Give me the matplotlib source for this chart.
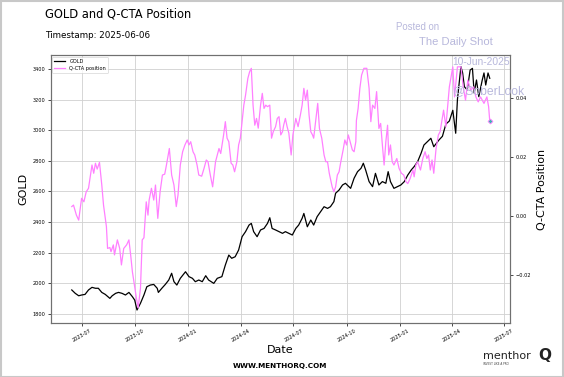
import matplotlib
matplotlib.use("Agg")
import matplotlib.pyplot as plt
import matplotlib.dates as mdates
import pandas as pd
from matplotlib.patches import Rectangle

# ---- data ----
gold_dates = [
    "2023-06-13", "2023-06-19", "2023-06-25", "2023-06-30", "2023-07-06", "2023-07-12",
    "2023-07-18", "2023-07-24", "2023-07-29", "2023-08-04", "2023-08-10", "2023-08-18",
    "2023-08-22", "2023-08-28", "2023-09-02", "2023-09-08", "2023-09-14", "2023-09-20",
    "2023-09-26", "2023-09-30", "2023-10-04", "2023-10-10", "2023-10-16", "2023-10-21",
    "2023-10-27", "2023-11-02", "2023-11-08", "2023-11-10", "2023-11-16", "2023-11-22",
    "2023-11-28", "2023-12-03", "2023-12-07", "2023-12-12", "2023-12-18", "2023-12-27",
    "2024-01-02", "2024-01-08", "2024-01-13", "2024-01-19", "2024-01-25", "2024-01-31",
    "2024-02-05", "2024-02-14", "2024-02-20", "2024-02-28", "2024-03-05", "2024-03-11",
    "2024-03-16", "2024-03-22", "2024-03-28", "2024-04-03", "2024-04-09", "2024-04-15",
    "2024-04-19", "2024-04-23", "2024-04-29", "2024-05-05", "2024-05-11", "2024-05-17",
    "2024-05-21", "2024-05-25", "2024-05-31", "2024-06-06", "2024-06-12", "2024-06-17",
    "2024-06-23", "2024-06-29", "2024-07-05", "2024-07-10", "2024-07-16", "2024-07-19",
    "2024-07-25", "2024-07-31", "2024-08-05", "2024-08-11", "2024-08-17", "2024-08-23",
    "2024-08-29", "2024-09-03", "2024-09-09", "2024-09-12", "2024-09-18", "2024-09-24",
    "2024-09-29", "2024-10-08", "2024-10-14", "2024-10-20", "2024-10-26", "2024-10-30",
    "2024-11-03", "2024-11-09", "2024-11-15", "2024-11-20", "2024-11-26", "2024-12-02",
    "2024-12-08", "2024-12-12", "2024-12-16", "2024-12-22", "2024-12-28", "2025-01-03",
    "2025-01-09", "2025-01-15", "2025-01-21", "2025-01-26", "2025-02-01", "2025-02-07",
    "2025-02-12", "2025-02-18", "2025-02-24", "2025-03-01", "2025-03-10", "2025-03-16",
    "2025-03-22", "2025-03-28", "2025-04-03", "2025-04-08", "2025-04-11", "2025-04-17",
    "2025-04-20", "2025-04-23", "2025-04-28", "2025-05-03", "2025-05-07", "2025-05-10",
    "2025-05-14", "2025-05-18", "2025-05-24", "2025-05-27", "2025-05-30", "2025-06-03",
    "2025-06-06"]
gold_values = [
    1956, 1934, 1918, 1923, 1927, 1956,
    1973, 1967, 1967, 1940, 1927, 1901,
    1918, 1934, 1940, 1934, 1923, 1940,
    1912, 1890, 1825, 1869, 1923, 1977,
    1988, 1992, 1967, 1940, 1967, 1992,
    2021, 2065, 2010, 1988, 2032, 2075,
    2043, 2032, 2010, 2021, 2010, 2049,
    2021, 1999, 2032, 2043, 2119, 2184,
    2163, 2173, 2217, 2304, 2337, 2380,
    2391, 2337, 2304, 2348, 2358, 2391,
    2428, 2358, 2348, 2337, 2326, 2337,
    2326, 2315, 2358, 2380, 2424, 2456,
    2369, 2413, 2380, 2435, 2467, 2500,
    2489, 2500, 2533, 2588, 2609, 2642,
    2653, 2620, 2686, 2729, 2751, 2784,
    2740, 2664, 2631, 2718, 2642, 2664,
    2653, 2729, 2664, 2620, 2631, 2642,
    2664, 2707, 2740, 2762, 2794, 2849,
    2903, 2925, 2947, 2892, 2936, 2960,
    3040, 3060, 3130, 2980, 3200, 3415,
    3374, 3284, 3263, 3393, 3404, 3243,
    3328, 3219, 3328, 3374, 3295, 3374,
    3339]

cta_dates = [
    "2023-06-13", "2023-06-16", "2023-06-21", "2023-06-25", "2023-06-30", "2023-07-04",
    "2023-07-08", "2023-07-12", "2023-07-18", "2023-07-21", "2023-07-24", "2023-07-27",
    "2023-07-31", "2023-08-04", "2023-08-07", "2023-08-12", "2023-08-14", "2023-08-18",
    "2023-08-20", "2023-08-24", "2023-08-26", "2023-08-31", "2023-09-04", "2023-09-07",
    "2023-09-11", "2023-09-16", "2023-09-20", "2023-09-23", "2023-09-26", "2023-09-29",
    "2023-10-03", "2023-10-06", "2023-10-10", "2023-10-13", "2023-10-16", "2023-10-20",
    "2023-10-23", "2023-10-25", "2023-10-29", "2023-11-02", "2023-11-05", "2023-11-09",
    "2023-11-13", "2023-11-17", "2023-11-21", "2023-11-24", "2023-11-27", "2023-11-29",
    "2023-12-03", "2023-12-07", "2023-12-11", "2023-12-14", "2023-12-18", "2023-12-22",
    "2023-12-26", "2023-12-30", "2024-01-02", "2024-01-05", "2024-01-09", "2024-01-12",
    "2024-01-16", "2024-01-19", "2024-01-24", "2024-01-28", "2024-02-01", "2024-02-04",
    "2024-02-08", "2024-02-12", "2024-02-17", "2024-02-23", "2024-02-26", "2024-03-02",
    "2024-03-05", "2024-03-08", "2024-03-11", "2024-03-15", "2024-03-18", "2024-03-21",
    "2024-03-25", "2024-03-28", "2024-03-31", "2024-04-03", "2024-04-06", "2024-04-09",
    "2024-04-13", "2024-04-16", "2024-04-19", "2024-04-22", "2024-04-25", "2024-04-28",
    "2024-05-01", "2024-05-05", "2024-05-08", "2024-05-11", "2024-05-14", "2024-05-17",
    "2024-05-21", "2024-05-24", "2024-05-27", "2024-05-31", "2024-06-03", "2024-06-06",
    "2024-06-09", "2024-06-12", "2024-06-14", "2024-06-17", "2024-06-20", "2024-06-23",
    "2024-06-27", "2024-06-30", "2024-07-05", "2024-07-09", "2024-07-13", "2024-07-16",
    "2024-07-19", "2024-07-22", "2024-07-25", "2024-07-28", "2024-07-31", "2024-08-03",
    "2024-08-05", "2024-08-09", "2024-08-12", "2024-08-15", "2024-08-19", "2024-08-23",
    "2024-08-26", "2024-08-29", "2024-09-01", "2024-09-03", "2024-09-06", "2024-09-09",
    "2024-09-12", "2024-09-15", "2024-09-18", "2024-09-21", "2024-09-25", "2024-09-28",
    "2024-10-01", "2024-10-04", "2024-10-08", "2024-10-11", "2024-10-14", "2024-10-17",
    "2024-10-18", "2024-10-21", "2024-10-24", "2024-10-27", "2024-10-31", "2024-11-05",
    "2024-11-09", "2024-11-12", "2024-11-15", "2024-11-19", "2024-11-22", "2024-11-26",
    "2024-11-29", "2024-12-02", "2024-12-05", "2024-12-08", "2024-12-11", "2024-12-13",
    "2024-12-16", "2024-12-19", "2024-12-22", "2024-12-27", "2024-12-31", "2025-01-04",
    "2025-01-08", "2025-01-12", "2025-01-15", "2025-01-19", "2025-01-24", "2025-01-26",
    "2025-01-29", "2025-02-01", "2025-02-06", "2025-02-10", "2025-02-14", "2025-02-17",
    "2025-02-20", "2025-02-23", "2025-02-26", "2025-03-01", "2025-03-05", "2025-03-09",
    "2025-03-12", "2025-03-18", "2025-03-22", "2025-03-28", "2025-04-03", "2025-04-06",
    "2025-04-11", "2025-04-17", "2025-04-21", "2025-04-25", "2025-04-29", "2025-05-04",
    "2025-05-09", "2025-05-13", "2025-05-17", "2025-05-21", "2025-05-27", "2025-06-01",
    "2025-06-04", "2025-06-06"]
cta_values = [
    0.0031, 0.0036, 0.0002, -0.0015, 0.0059, 0.0047,
    0.0081, 0.0093, 0.0172, 0.0144, 0.0178, 0.0158,
    0.0181, 0.0104, 0.0036, -0.0037, -0.0111, -0.0108,
    -0.0122, -0.0099, -0.0133, -0.0082, -0.0111, -0.0167,
    -0.0111, -0.0099, -0.0082, -0.0133, -0.0190, -0.0229,
    -0.0280, -0.0313, -0.0246, -0.0082, -0.0075, 0.0047,
    0.0002, 0.0053, 0.0093, 0.0053, 0.0104, -0.0009,
    0.0081, 0.0138, 0.0141, 0.0172, 0.0206, 0.0228,
    0.0138, 0.0104, 0.0031, 0.0070, 0.0172, 0.0217,
    0.0240, 0.0257, 0.0240, 0.0251, 0.0217, 0.0206,
    0.0172, 0.0138, 0.0134, 0.0160, 0.0189, 0.0183,
    0.0138, 0.0098, 0.0183, 0.0228, 0.0211, 0.0274,
    0.0319, 0.0263, 0.0251, 0.0178, 0.0172, 0.0149,
    0.0183, 0.0240, 0.0263, 0.0319, 0.0375, 0.0409,
    0.0466, 0.0488, 0.0500, 0.0375, 0.0307, 0.0330,
    0.0297, 0.0375, 0.0415, 0.0364, 0.0375, 0.0370,
    0.0375, 0.0263, 0.0285, 0.0302, 0.0330, 0.0336,
    0.0274, 0.0285, 0.0307, 0.0330, 0.0302, 0.0280,
    0.0206, 0.0274, 0.0330, 0.0302, 0.0342, 0.0375,
    0.0432, 0.0392, 0.0426, 0.0342, 0.0285, 0.0274,
    0.0263, 0.0330, 0.0381, 0.0296, 0.0263, 0.0206,
    0.0183, 0.0183, 0.0144, 0.0126, 0.0098, 0.0081,
    0.0098, 0.0138, 0.0149, 0.0183, 0.0223, 0.0257,
    0.0240, 0.0274, 0.0245, 0.0223, 0.0217, 0.0251,
    0.0323, 0.0364, 0.0432, 0.0477, 0.0500, 0.0500,
    0.0432, 0.0319, 0.0375, 0.0364, 0.0421, 0.0296,
    0.0313, 0.0240, 0.0172, 0.0251, 0.0307, 0.0206,
    0.0240, 0.0183, 0.0172, 0.0194, 0.0160, 0.0144,
    0.0138, 0.0115, 0.0109, 0.0126, 0.0155, 0.0132,
    0.0172, 0.0183, 0.0155, 0.0194, 0.0217, 0.0194,
    0.0206, 0.0155, 0.0189, 0.0144, 0.0228, 0.0274,
    0.0285, 0.0358, 0.0302, 0.0437, 0.0505, 0.0403,
    0.0505, 0.0505, 0.0437, 0.0392, 0.0460, 0.0426,
    0.0437, 0.0403, 0.0386, 0.0403, 0.0381, 0.0403,
    0.0370, 0.0321]

gold_yticks = [1800, 2000, 2200, 2400, 2600, 2800, 3000, 3200, 3400]
qcta_yticks = [-0.02, 0.00, 0.02, 0.04]

PINK = "#ff80ff"

gd = pd.to_datetime(gold_dates)
cd = pd.to_datetime(cta_dates)

fig = plt.figure(figsize=(5.64, 3.77), dpi=100)
fig.patch.set_facecolor("white")
fig.patches.append(Rectangle((0.001, 0.001), 0.997, 0.996, transform=fig.transFigure,
                             fill=False, edgecolor="#c8c8c8", linewidth=1.5))

ax = fig.add_axes([0.0904, 0.1432, 0.8138, 0.7108])
ax2 = ax.twinx()

l1, = ax.plot(gd, gold_values, color="black", lw=0.9, label="GOLD")
l2, = ax2.plot(cd, cta_values, color=PINK, lw=0.9, label="Q-CTA position")
ax2.plot([cd[-1]], [cta_values[-1]], marker="D", ms=2.5, mfc="#3cb4b4", mec=PINK, mew=0.6)

ax.set_xlim(pd.Timestamp("2023-05-08"), pd.Timestamp("2025-07-11"))
ax.set_ylim(1740, 3491)
ax2.set_ylim(-0.0364, 0.0545)
ax.set_yticks(gold_yticks)
ax2.set_yticks(qcta_yticks)
ax2.set_yticklabels(["\u22120.02", "0.00", "0.02", "0.04"])

ax.xaxis.set_major_locator(mdates.MonthLocator(bymonth=[1, 4, 7, 10]))
ax.xaxis.set_major_formatter(mdates.DateFormatter("%Y-%m"))
for lbl in ax.get_xticklabels():
    lbl.set_rotation(30)
    lbl.set_ha("center")

ax.tick_params(axis="both", labelsize=3.6, length=2, width=0.5, pad=2)
ax2.tick_params(axis="y", labelsize=3.6, length=2, width=0.5, pad=2)
ax.grid(True, color="#d0d0d0", lw=0.6)
ax.set_axisbelow(True)
for a in (ax, ax2):
    for s in a.spines.values():
        s.set_color("#707070")
        s.set_linewidth(0.8)

ax.set_ylabel("GOLD", fontsize=8, labelpad=3)
ax2.set_ylabel("Q-CTA Position", fontsize=8, labelpad=4)
ax.set_xlabel("Date", fontsize=8, labelpad=1)

leg = ax.legend([l1, l2], ["GOLD", "Q-CTA position"], loc="upper left", fontsize=3.6,
                frameon=True, borderaxespad=0.3, handlelength=2.2)
leg.get_frame().set_linewidth(0.5)

fig.text(45 / 564, 1 - 14 / 377, "GOLD and Q-CTA Position", fontsize=8.3, va="center", ha="left")
fig.text(45 / 564, 1 - 35 / 377, "Timestamp: 2025-06-06", fontsize=6.3, va="center", ha="left")

wm = dict(color="#b8b8dc", family="Liberation Sans", va="center", ha="left", zorder=10)
fig.text(396 / 564, 1 - 27 / 377, "Posted on", fontsize=6.9, **wm)
fig.text(419 / 564, 1 - 42 / 377, "The Daily Shot", fontsize=8.1, **wm)
fig.text(452 / 564, 1 - 62 / 377, "10-Jun-2025", fontsize=7.4, **wm)
fig.text(453 / 564, 1 - 91 / 377, "@SoberLook", fontsize=8.7, **wm)

fig.text(280 / 564, 1 - 366 / 377, "WWW.MENTHORQ.COM", fontsize=5.2, weight="bold",
         ha="center", va="center")
fig.text(483 / 564, 1 - 356 / 377, "menthor", fontsize=8, ha="left", va="center", color="#222222")
fig.text(545 / 564, 1 - 355 / 377, "Q", fontsize=11, weight="bold", ha="center", va="center", color="#222222")
fig.text(483 / 564, 1 - 364 / 377, "INVEST LIKE A PRO", fontsize=2, ha="left", va="center", color="#444444")

fig.savefig("out.png", dpi=100)
